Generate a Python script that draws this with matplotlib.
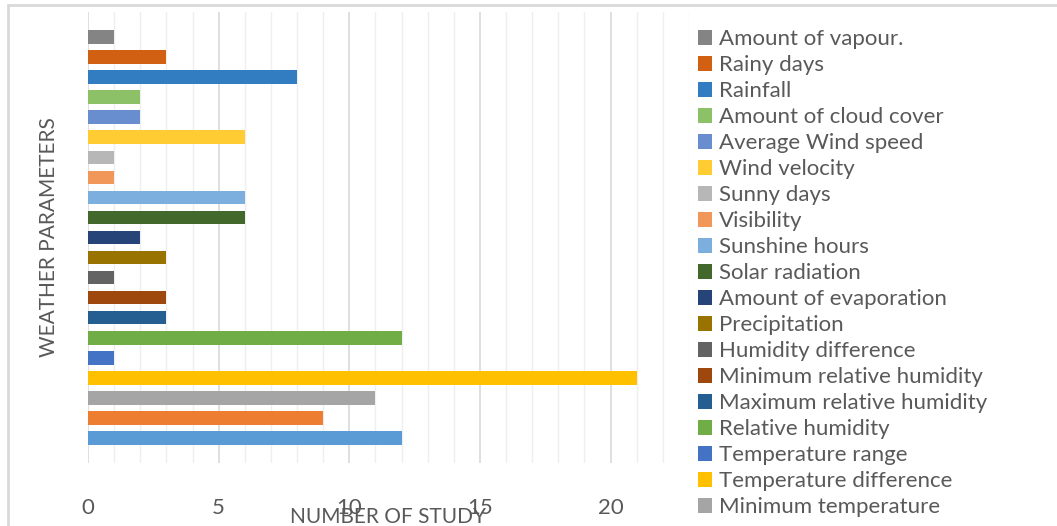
import matplotlib.pyplot as plt
from matplotlib.patches import Rectangle

plt.rcParams['font.family'] = ['Lato', 'DejaVu Sans']

# series in plotting order (first = bottom bar)
parameters = [
    "Average temperature", "Maximum temperature", "Minimum temperature",
    "Temperature difference", "Temperature range", "Relative humidity",
    "Maximum relative humidity", "Minimum relative humidity",
    "Humidity difference", "Precipitation", "Amount of evaporation",
    "Solar radiation", "Sunshine hours", "Visibility", "Sunny days",
    "Wind velocity", "Average Wind speed", "Amount of cloud cover",
    "Rainfall", "Rainy days", "Amount of vapour.",
]
studies = [12, 9, 11, 21, 1, 12, 3, 3, 1, 3, 2, 6, 6, 1, 1, 6, 2, 2, 8, 3, 1]
colors = [
    "#5B9BD5", "#ED7D31", "#A5A5A5", "#FFC000", "#4472C4", "#70AD47",
    "#255E91", "#9E480E", "#636363", "#997300", "#264478", "#43682B",
    "#7CAFDD", "#F1975A", "#B7B7B7", "#FFCD33", "#698ED0", "#8CC168",
    "#327DC2", "#D26012", "#848484",
]
# legend entries that fit in the frame
n_legend = 19

text_col = "#595959"

fig = plt.figure(figsize=(10.57, 5.26), dpi=100)
ax = fig.add_axes([88 / 1057, 1 - 463 / 526, (689 - 88) / 1057, (463 - 12) / 526])

handles = []
for i, (name, val, col) in enumerate(zip(parameters, studies, colors)):
    b = ax.barh(i, val, height=0.68, color=col, label=name, zorder=3)
    handles.append(b)

ax.set_xlim(0, 23)
ax.set_ylim(-1.25, len(parameters) - 1 + 1.25)
ax.set_xticks(range(0, 21, 5))
ax.set_xticks(range(0, 24), minor=True)
ax.grid(axis='x', which='minor', color="#EFEFEF", lw=1.0, zorder=0)
ax.grid(axis='x', which='major', color="#D9D9D9", lw=1.2, zorder=1)
ax.set_yticks([])
ax.tick_params(axis='x', which='both', length=0, pad=25,
               labelsize=16, labelcolor=text_col)
for s in ax.spines.values():
    s.set_visible(False)

ax.set_xlabel("NUMBER OF STUDY", fontsize=15, color=text_col, labelpad=-8)
ax.set_ylabel("WEATHER PARAMETERS", fontsize=15, color=text_col, labelpad=21)

# legend lists the series top-down
leg_h = handles[::-1][:n_legend]
leg_l = parameters[::-1][:n_legend]
fig.legend(leg_h, leg_l, loc='upper left', bbox_to_anchor=(698 / 1057, 1 - 29 / 526),
           frameon=False, fontsize=16, labelcolor=text_col,
           handlelength=0.65, handleheight=0.65, handletextpad=0.3,
           labelspacing=0.27, borderpad=0, borderaxespad=0)

# chart area outline
fig.patches.append(Rectangle((8 / 1057, -0.1), 1.2, 1 - 5 / 526 + 0.1,
                             transform=fig.transFigure, fill=False,
                             edgecolor="#D9D9D9", lw=2))

fig.savefig("out.png", dpi=100)
